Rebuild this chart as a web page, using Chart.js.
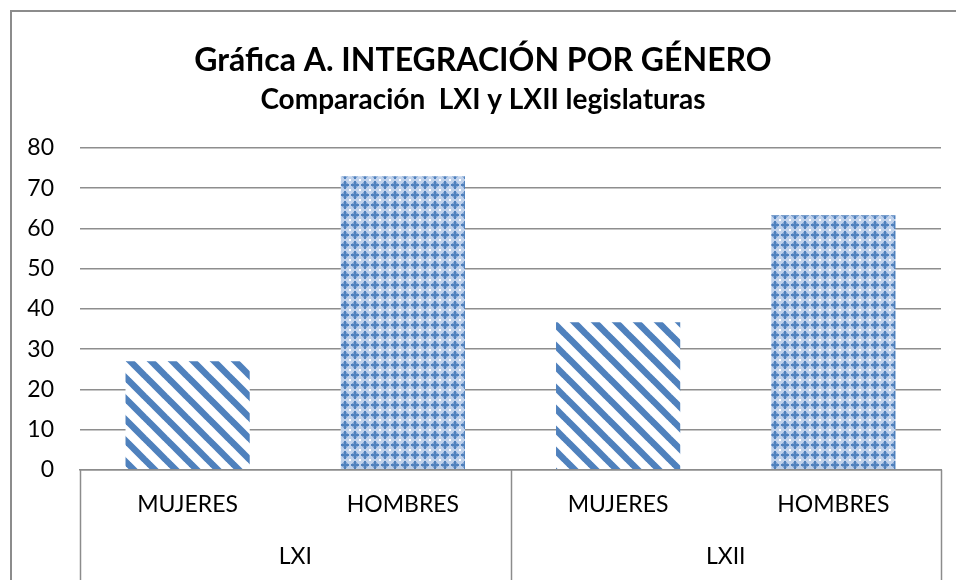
<html>
    <head>
        <script src="https://cdn.jsdelivr.net/npm/chart.js@4.4.0/dist/chart.umd.min.js"></script>
        <style>
            body {
                margin: 0px;
                background: #ffffff;
            }

            #chart {
                display: block;
                width: 956px;
                height: 580px;
            }
        </style>
    </head>

    <body>
        <div>
            <canvas id="chart" width="956" height="580"></canvas>
        </div>
        <script>
            // Data
            const categories = ['MUJERES', 'HOMBRES', 'MUJERES', 'HOMBRES']
            const groups = ['LXI', 'LXII']
            const values = [27, 73, 36.7, 63.3]
            const yTicks = [0, 10, 20, 30, 40, 50, 60, 70, 80]

            const blue = '#4f81bd'
            const gridGray = '#8e8e8e'
            const frameGray = '#8c8c8c'

            // Fill patterns
            const stripePattern = (() => {
                const s = 21
                const c = document.createElement('canvas')
                c.width = s
                c.height = s
                const g = c.getContext('2d')
                g.fillStyle = '#ffffff'
                g.fillRect(0, 0, s, s)
                g.strokeStyle = blue
                g.lineWidth = 6.5
                for (const off of [-s, 0, s]) {
                    g.beginPath()
                    g.moveTo(off - 2, -2)
                    g.lineTo(off + s + 2, s + 2)
                    g.stroke()
                }
                return g.createPattern(c, 'repeat')
            })()

            const dotPattern = (() => {
                const s = 10
                const c = document.createElement('canvas')
                c.width = s
                c.height = s
                const g = c.getContext('2d')
                g.fillStyle = '#bfd1eb'
                g.fillRect(0, 0, s, s)
                g.fillStyle = '#86a8d6'
                g.fillRect(3, 2, 4, 6)
                g.fillRect(2, 3, 6, 4)
                g.fillStyle = blue
                g.fillRect(4, 1, 2, 8)
                g.fillRect(1, 4, 8, 2)
                g.fillStyle = '#ffffff'
                g.fillRect(0, 0, 1, 1)
                g.fillRect(9, 0, 1, 1)
                g.fillRect(0, 9, 1, 1)
                g.fillRect(9, 9, 1, 1)
                return g.createPattern(c, 'repeat')
            })()

            // Outer frame and group dividers
            const framePlugin = {
                id: 'frame',
                beforeDraw(chart) {
                    const ctx = chart.ctx
                    ctx.save()
                    ctx.strokeStyle = frameGray
                    ctx.lineWidth = 2
                    ctx.beginPath()
                    ctx.moveTo(11, chart.height)
                    ctx.lineTo(11, 11)
                    ctx.lineTo(chart.width, 11)
                    ctx.stroke()
                    ctx.restore()
                },
                afterDraw(chart) {
                    const ctx = chart.ctx
                    const x = chart.scales.x
                    const x2 = chart.scales.x2
                    ctx.save()
                    ctx.strokeStyle = frameGray
                    ctx.lineWidth = 1.5
                    for (let i = 0; i <= groups.length; i += 1) {
                        const px = Math.round(x2.getPixelForValue(i - 0.5)) + 0.5
                        ctx.beginPath()
                        ctx.moveTo(px, x.top)
                        ctx.lineTo(px, chart.height)
                        ctx.stroke()
                    }
                    ctx.restore()
                },
            }

            const ctx = document.getElementById('chart')
            const chart = new Chart(ctx, {
                type: 'bar',
                data: {
                    labels: categories,
                    datasets: [
                        {
                            data: values,
                            backgroundColor: values.map((_, i) => (i % 2 === 0 ? stripePattern : dotPattern)),
                            borderWidth: 0,
                            barPercentage: 0.577,
                            categoryPercentage: 1,
                        },
                    ],
                },
                options: {
                    responsive: false,
                    animation: false,
                    layout: {
                        padding: { left: 25, right: 15, top: 0, bottom: 7 },
                    },
                    plugins: {
                        legend: { display: false },
                        tooltip: { enabled: false },
                        title: {
                            display: true,
                            text: 'Gráfica A. INTEGRACIÓN POR GÉNERO',
                            color: '#000000',
                            font: { family: 'Lato', size: 32, weight: 'bold', lineHeight: 1.2 },
                            padding: { top: 41, bottom: 0 },
                        },
                        subtitle: {
                            display: true,
                            text: 'Comparación  LXI y LXII legislaturas',
                            color: '#000000',
                            font: { family: 'Lato', size: 28, weight: 'bold', lineHeight: 1.2 },
                            padding: { top: 4, bottom: 31 },
                        },
                    },
                    scales: {
                        y: {
                            min: 0,
                            max: 80,
                            afterBuildTicks: (scale) => {
                                scale.ticks = yTicks.map((v) => ({ value: v }))
                            },
                            afterFit: (scale) => {
                                scale.width = 55
                            },
                            grid: {
                                color: gridGray,
                                lineWidth: 1.5,
                                drawTicks: false,
                            },
                            border: { display: false },
                            ticks: {
                                color: '#000000',
                                padding: 26,
                                font: { family: 'Lato', size: 23 },
                            },
                        },
                        x: {
                            grid: { display: false, drawTicks: false },
                            border: { display: true, color: frameGray, width: 1.5 },
                            ticks: {
                                color: '#000000',
                                padding: 21,
                                maxRotation: 0,
                                autoSkip: false,
                                font: { family: 'Lato', size: 23 },
                            },
                        },
                        x2: {
                            type: 'category',
                            labels: groups,
                            position: 'bottom',
                            offset: true,
                            grid: { display: false, drawTicks: false },
                            border: { display: false },
                            ticks: {
                                color: '#000000',
                                padding: 3,
                                maxRotation: 0,
                                font: { family: 'Lato', size: 23 },
                            },
                        },
                    },
                },
                plugins: [framePlugin],
            })
        </script>
    </body>
</html>
